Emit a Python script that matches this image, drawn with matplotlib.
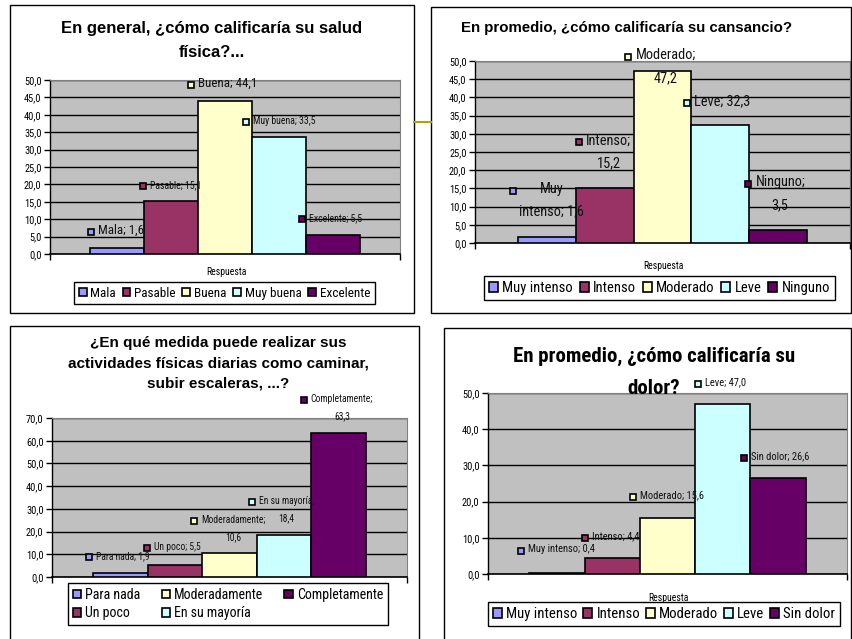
import numpy as np
import matplotlib
matplotlib.use('Agg')
import matplotlib.pyplot as plt
from matplotlib.patches import Rectangle
from matplotlib.lines import Line2D

# survey answers, percentages per response
salud_cats = ['Mala', 'Pasable', 'Buena', 'Muy buena', 'Excelente']
salud_vals = [1.6, 15.1, 44.1, 33.5, 5.5]

cansancio_cats = ['Muy intenso', 'Intenso', 'Moderado', 'Leve', 'Ninguno']
cansancio_vals = [1.6, 15.2, 47.2, 32.3, 3.5]

actividad_cats = ['Para nada', 'Un poco', 'Moderadamente', 'En su mayoría', 'Completamente']
actividad_vals = [1.9, 5.5, 10.6, 18.4, 63.3]

dolor_cats = ['Muy intenso', 'Intenso', 'Moderado', 'Leve', 'Sin dolor']
dolor_vals = [0.4, 4.4, 15.6, 47.0, 26.6]

colors = ['#9999FF', '#993366', '#FFFFCC', '#CCFFFF', '#660066']

plt.rcParams['font.family'] = ['Liberation Sans', 'DejaVu Sans']
NARROW = ['Roboto Condensed', 'Liberation Sans', 'DejaVu Sans']

W, H = 852, 639
fig = plt.figure(figsize=(W / 100, H / 100), dpi=100)


def fx(x):
    return x / W


def fy(y):
    return 1 - y / H


def px_rect(x0, y0, x1, y1):
    return [fx(x0), fy(y1), (x1 - x0) / W, (y1 - y0) / H]


def comma(v):
    return f'{v:.1f}'.replace('.', ',')


def label_text(cat, v, wrap):
    s = f'{cat}; {comma(v)}'
    if wrap == 1:
        s = s.replace('; ', ';\n')
    elif wrap == 2:
        s = s.replace(' ', '\n', 1)
    return s


def frame(x0, y0, x1, y1):
    fig.add_artist(Rectangle((fx(x0), fy(y1)), (x1 - x0) / W, (y1 - y0) / H,
                             transform=fig.transFigure, fill=False,
                             edgecolor='black', linewidth=1))


def panel(box, cats, vals, ymax, ystep, lpos, lfs, lwrap, lspacing,
          leg_box, leg_ncol, leg_fs):
    ax = fig.add_axes(px_rect(*box))
    ax.set_facecolor('#C0C0C0')
    for i, (c, v) in enumerate(zip(cats, vals)):
        ax.bar(i, v, width=1, color=colors[i], edgecolor='black',
               linewidth=1.2, label=c, zorder=3)
    ax.set_xlim(-1.25, 5.25)
    ax.set_ylim(0, ymax)
    ticks = np.arange(0, ymax + ystep / 2, ystep)
    ax.set_yticks(ticks)
    ax.set_yticklabels([comma(t) for t in ticks], family=NARROW, fontsize=7.5)
    ax.yaxis.grid(True, color='black', linewidth=1, zorder=1)
    ax.set_axisbelow(True)
    ax.set_xticks([-1.25, 5.25])
    ax.set_xticklabels([])
    ax.tick_params(axis='both', direction='out', length=4, width=1, pad=2)
    for s in ['top', 'right']:
        ax.spines[s].set_color('#808080')
    ax.spines['left'].set_linewidth(1)
    ax.spines['bottom'].set_linewidth(1.2)

    # data labels with their legend key
    for i, (c, v) in enumerate(zip(cats, vals)):
        x, y = lpos[i]
        ax.plot([x], [y], 's', ms=5, mfc=colors[i], mec='black', mew=1.2,
                clip_on=False, zorder=6)
        ax.annotate(label_text(c, v, lwrap[i]), (x, y),
                    xytext=(5, lfs[i] * 0.62), textcoords='offset points',
                    ha='left', va='top', multialignment='center',
                    fontsize=lfs[i], family=NARROW, linespacing=lspacing,
                    color='#111111', annotation_clip=False, zorder=7)

    x0, y0, x1, y1 = leg_box
    leg = ax.legend(loc='upper left', ncol=leg_ncol, mode='expand',
                    bbox_to_anchor=(fx(x0), fy(y0), (x1 - x0) / W, 0),
                    bbox_transform=fig.transFigure,
                    prop={'family': NARROW, 'size': leg_fs},
                    handlelength=0.6, handleheight=0.6, handletextpad=0.3,
                    borderpad=0.35, labelspacing=0.3, borderaxespad=0,
                    fancybox=False, framealpha=1, edgecolor='black')
    leg.get_frame().set_linewidth(1)
    return ax


# frames around each chart and the connector line between the top two
frame(10, 5, 414, 313)
frame(431, 7, 851, 313)
frame(10, 326, 419, 660)
frame(444, 328, 851, 660)
fig.add_artist(Line2D([fx(414), fx(431)], [fy(122), fy(122)],
                      transform=fig.transFigure, color='#A9A700', linewidth=1.5))

# salud física
panel((50, 80, 400, 254), salud_cats, salud_vals, 50, 5,
      [(-0.48, 6.3), (0.48, 19.5), (1.37, 48.6), (2.39, 37.9), (3.43, 10.1)],
      [9.3, 7, 9.3, 7, 7], [0, 0, 0, 0, 0], 1.3,
      (74, 282, 375, 306), 5, 9.5)
fig.text(fx(212), fy(40.5), 'En general, ¿cómo calificaría su salud\nfísica?...',
         ha='center', va='center', fontsize=12, fontweight='bold', linespacing=1.75)
fig.text(fx(226), fy(272), 'Respuesta', ha='center', va='center',
         fontsize=7, family=NARROW)

# cansancio
panel((475, 61, 850, 243), cansancio_cats, cansancio_vals, 50, 5,
      [(-0.60, 14.3), (0.56, 27.7), (1.41, 51.1), (2.42, 38.5), (3.49, 16.2)],
      [10.4] * 5, [2, 1, 1, 0, 1], 1.8,
      (484, 276, 835, 308), 5, 10.5)
fig.text(fx(627), fy(28), 'En promedio, ¿cómo calificaría su cansancio?',
         ha='center', va='center', fontsize=10.8, fontweight='bold')
fig.text(fx(663), fy(266), 'Respuesta', ha='center', va='center',
         fontsize=7, family=NARROW)

# actividades físicas
panel((52, 418, 407, 577), actividad_cats, actividad_vals, 70, 10,
      [(-0.57, 8.8), (0.49, 12.8), (1.35, 24.7), (2.41, 33.0), (3.36, 77.9)],
      [6.9] * 5, [0, 0, 1, 1, 1], 1.9,
      (68, 583, 388, 633), 3, 10)
fig.text(fx(218), fy(363),
         '¿En qué medida puede realizar sus\nactividades físicas diarias como caminar,\nsubir escaleras, ...?',
         ha='center', va='center', fontsize=11, fontweight='bold', linespacing=1.55)

# dolor
panel((488, 393, 847, 574), dolor_cats, dolor_vals, 50, 10,
      [(-0.66, 6.4), (0.51, 10.0), (1.38, 21.3), (2.56, 52.5), (3.39, 32.0)],
      [7.6] * 5, [0] * 5, 1.3,
      (488, 602, 840, 635), 5, 10.6)
fig.text(fx(654), fy(356), 'En promedio, ¿cómo calificaría su',
         ha='center', va='center', fontsize=15, fontweight='bold', family=NARROW)
fig.text(fx(654), fy(388), 'dolor?',
         ha='center', va='center', fontsize=15, fontweight='bold', family=NARROW)
fig.text(fx(668), fy(598), 'Respuesta', ha='center', va='center',
         fontsize=7, family=NARROW)

fig.savefig('out.png', dpi=100)
